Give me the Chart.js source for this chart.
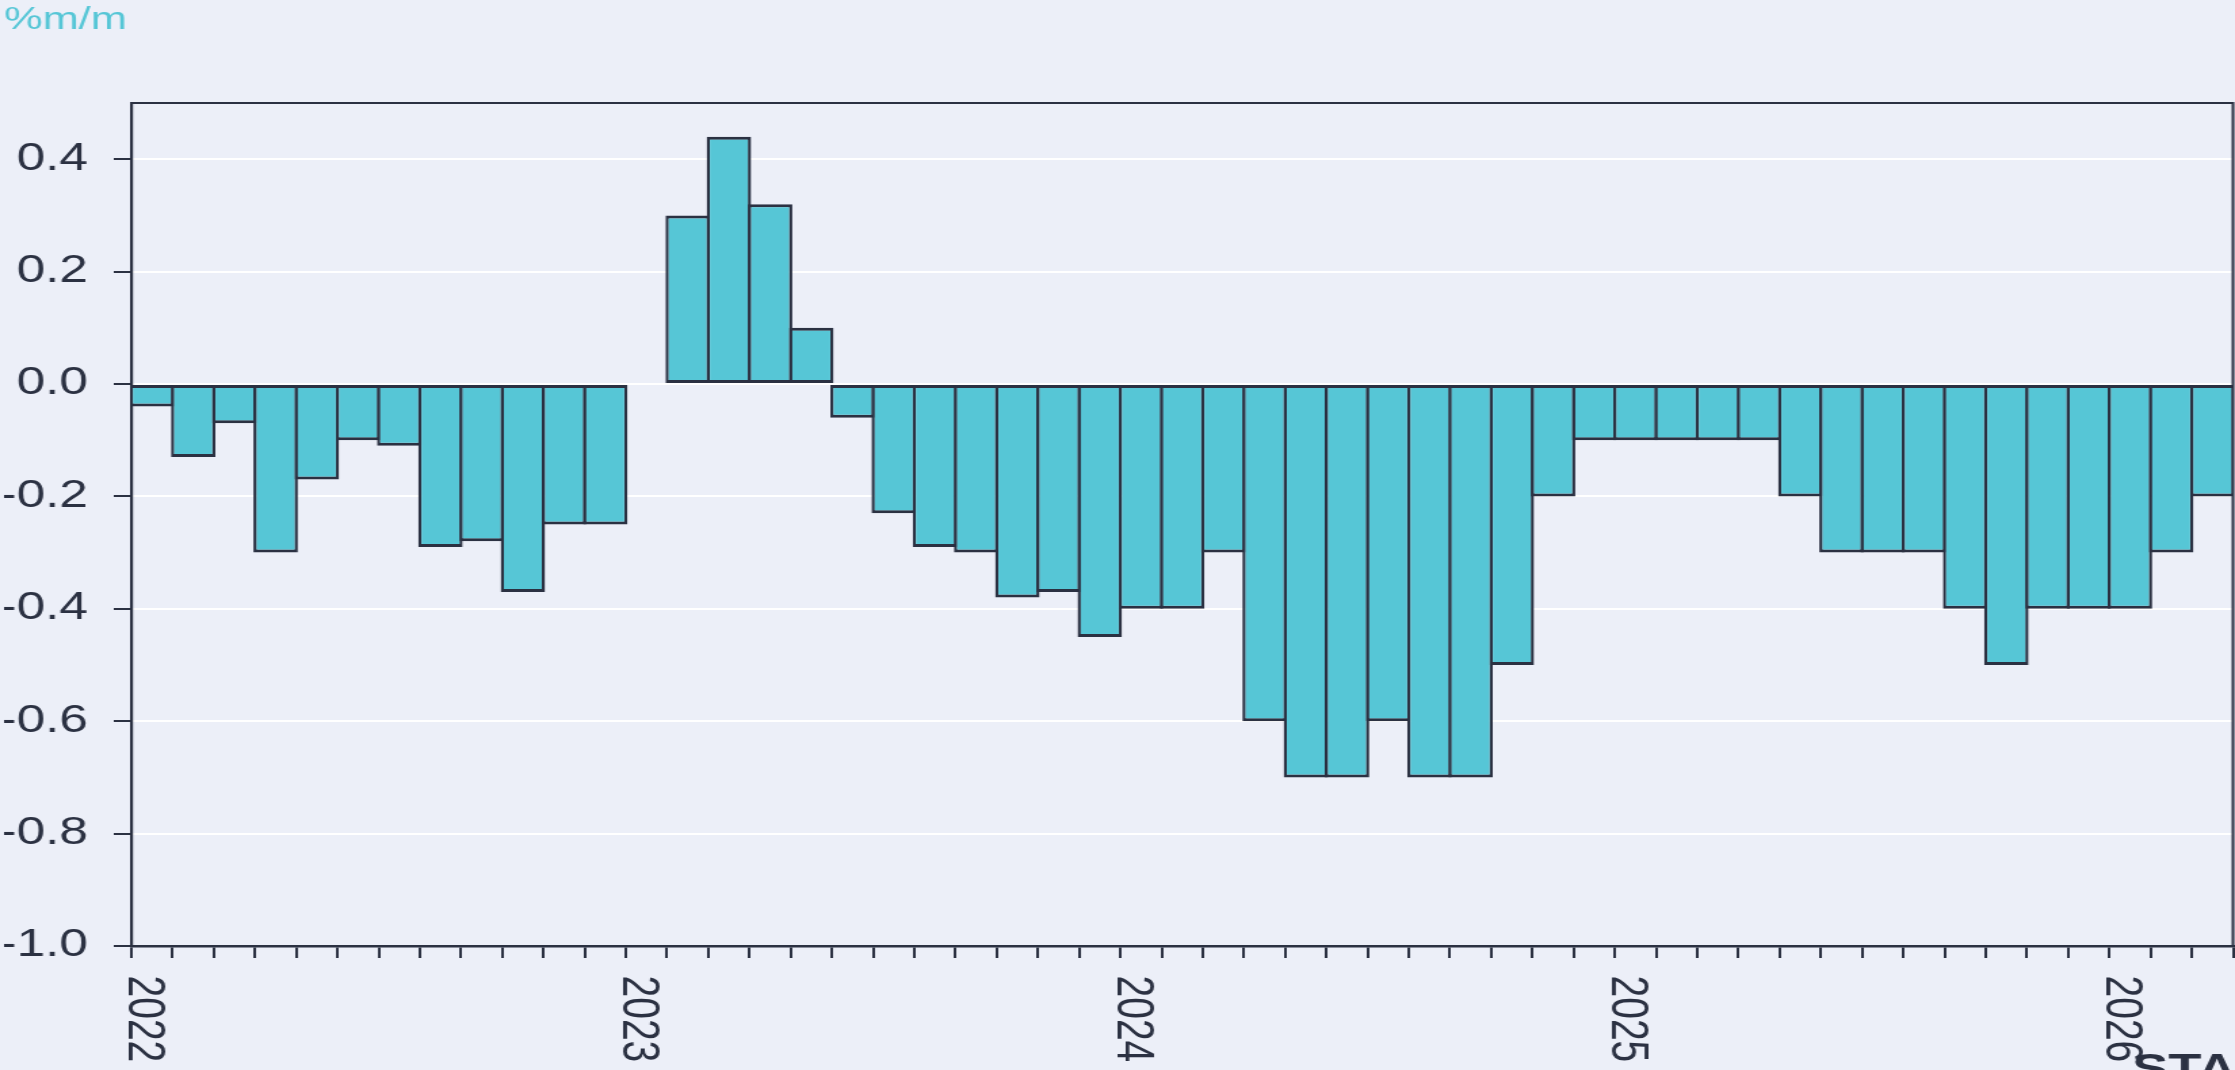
<!DOCTYPE html>
<html>
<head>
<meta charset="utf-8">
<script src="https://cdn.jsdelivr.net/npm/chart.js@4.4.1/dist/chart.umd.min.js"></script>
<style>
html, body { margin: 0; padding: 0; background: #ECEFF8; overflow: hidden; }
#chart { display: block; }
</style>
</head>
<body>
<canvas id="chart" width="1650" height="1070" style="width:2235px;height:1070px"></canvas>
<script>
// ---- data (monthly % m/m) ----
const years = ['2022', '2023', '2024', '2025', '2026'];
const months = ['01', '02', '03', '04', '05', '06', '07', '08', '09', '10', '11', '12'];
const v2022 = [-0.04, -0.13, -0.07, -0.30, -0.17, -0.10, -0.11, -0.29, -0.28, -0.37, -0.25, -0.25];
const v2023 = [null, 0.30, 0.44, 0.32, 0.10, -0.06, -0.23, -0.29, -0.30, -0.38, -0.37, -0.45];
const v2024 = [-0.40, -0.40, -0.30, -0.60, -0.70, -0.70, -0.60, -0.70, -0.70, -0.50, -0.20, -0.10];
const v2025 = [-0.10, -0.10, -0.10, -0.10, -0.20, -0.30, -0.30, -0.30, -0.40, -0.50, -0.40, -0.40];
const v2026 = [-0.40, -0.30, -0.20];
const yTicks = [-1.0, -0.8, -0.6, -0.4, -0.2, 0.0, 0.2, 0.4];
const unitLabel = '%m/m';
const cornerText = 'STA';

// ---- build series ----
const seriesByYear = [v2022, v2023, v2024, v2025, v2026];
const categories = [];
const values = [];
seriesByYear.forEach((arr, yi) => arr.forEach((v, mi) => {
  categories.push(years[yi] + '-' + months[mi]);
  values.push(v);
}));
const points = values.map((v, i) => ({ x: i + 0.5, y: v }));
const monthEdges = categories.map((c, i) => i).concat([categories.length]);

const DARK = '#2B3142';
const TEAL = '#56C6D6';
const FONT = "'Liberation Sans', Arial, sans-serif";

const framePlugin = {
  id: 'frame',
  afterDatasetsDraw(chart) {
    const { ctx, chartArea: a } = chart;
    ctx.save();
    ctx.strokeStyle = DARK;
    ctx.lineWidth = 2;
    ctx.beginPath();
    ctx.moveTo(a.left - 1, a.top);
    ctx.lineTo(a.right, a.top);
    ctx.lineTo(a.right, a.bottom);
    ctx.stroke();
    ctx.restore();
  },
  afterDraw(chart) {
    const { ctx } = chart;
    const xs = chart.scales.x;
    ctx.save();
    ctx.fillStyle = DARK;
    ctx.font = '39px ' + FONT;
    ctx.textAlign = 'left';
    ctx.textBaseline = 'alphabetic';
    years.forEach((yr, i) => {
      const px = xs.getPixelForValue(i * 12);
      ctx.save();
      ctx.translate(px - 2, 975.5);
      ctx.rotate(Math.PI / 2);
      ctx.fillText(yr, 0, 0);
      ctx.restore();
    });
    ctx.font = 'bold 40px ' + FONT;
    ctx.fillText(cornerText, 1574, 1082);
    ctx.restore();
  }
};

new Chart(document.getElementById('chart'), {
  type: 'bar',
  data: {
    datasets: [{
      data: points,
      backgroundColor: TEAL,
      borderColor: DARK,
      borderWidth: { top: 3, bottom: 3, left: 2.4, right: 2.4 },
      borderSkipped: false,
      barPercentage: 1.079,
      categoryPercentage: 1
    }]
  },
  options: {
    responsive: false,
    animation: false,
    layout: { padding: { left: 3, right: 1.5, top: 0, bottom: 0 } },
    plugins: {
      legend: { display: false },
      tooltip: { enabled: false },
      title: {
        display: true,
        text: unitLabel,
        align: 'start',
        color: TEAL,
        font: { family: FONT, size: 32, weight: 'normal', lineHeight: 1 },
        padding: { top: 4.6, bottom: 66.4 }
      }
    },
    scales: {
      x: {
        type: 'linear',
        min: 0,
        max: categories.length,
        offset: false,
        afterBuildTicks: (s) => { s.ticks = monthEdges.map(v => ({ value: v })); },
        ticks: { display: false },
        grid: { offset: false, drawOnChartArea: false, drawTicks: true, tickLength: 12, tickColor: DARK, tickWidth: 2, lineWidth: 2 },
        border: { display: true, color: DARK, width: 2.5 },
        afterFit: (s) => { s.height = 124; }
      },
      y: {
        min: -1.0,
        max: 0.5,
        afterBuildTicks: (s) => { s.ticks = yTicks.map(v => ({ value: v })); },
        ticks: {
          color: DARK,
          font: { family: FONT, size: 38 },
          padding: 19,
          callback: (v) => (Math.abs(v) < 1e-9 ? 0 : v).toFixed(1)
        },
        grid: { color: '#FFFFFF', lineWidth: 2, tickColor: DARK, tickLength: 13, tickWidth: 2 },
        border: { display: true, color: DARK, width: 2.2 },
        afterFit: (s) => { s.width = 94; }
      }
    }
  },
  plugins: [framePlugin]
});
</script>
</body>
</html>
